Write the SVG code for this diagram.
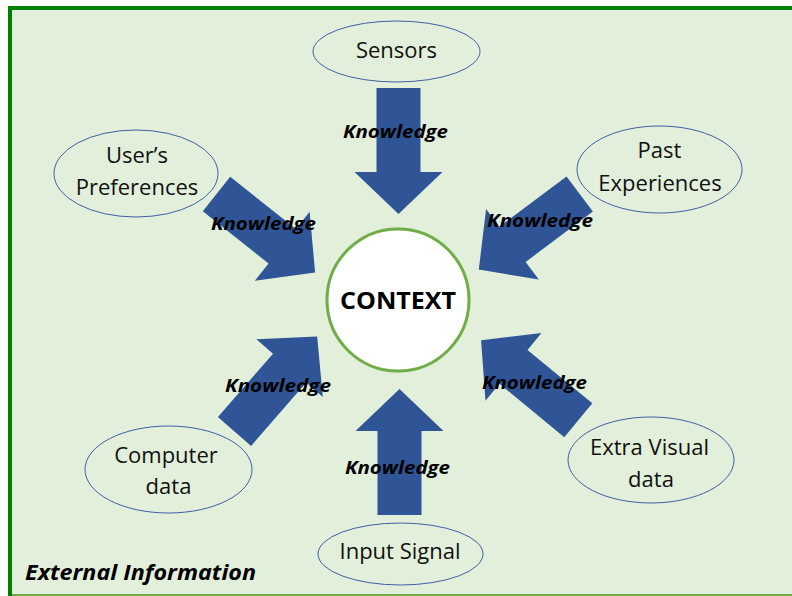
<svg xmlns="http://www.w3.org/2000/svg" width="792" height="596" viewBox="0 0 792 596">
  <style>
    .node ellipse { fill: #E2EFDA; stroke: #3F5FA8; stroke-width: 1; }
    .lbl { font-family: "Open Sans", "Liberation Sans", sans-serif; font-size: 22px; fill: #111; text-anchor: middle; }
    .kn { font-family: "Open Sans", "Liberation Sans", sans-serif; font-size: 18px; font-weight: bold; font-style: italic; fill: #000; }
    .arrow { fill: #2F5597; }
  </style>
  <defs>
    <path id="blk" d="M0,-22 L84,-22 L84,-44 L126,0 L84,44 L84,22 L0,22 Z"/>
  </defs>
  <rect x="0" y="0" width="792" height="596" fill="#FFFFFF"/>
  <rect x="10" y="8" width="782" height="587" fill="#E2EFDA"/>
  <line x1="8" y1="8" x2="792" y2="8" stroke="#008000" stroke-width="4"/>
  <line x1="10" y1="6" x2="10" y2="596" stroke="#008000" stroke-width="4"/>
  <line x1="12" y1="595" x2="792" y2="595" stroke="#70AD47" stroke-width="2"/>

  <g id="connectors">
    <use href="#blk" class="arrow" transform="translate(398.5,88) rotate(90)"/>
    <use href="#blk" class="arrow" transform="translate(399.5,515) rotate(-90)"/>
    <use href="#blk" class="arrow" transform="translate(216.5,194) rotate(38.5)"/>
    <use href="#blk" class="arrow" transform="translate(579.7,194) rotate(143.2)"/>
    <use href="#blk" class="arrow" transform="translate(234.5,431.5) rotate(-49)"/>
    <use href="#blk" class="arrow" transform="translate(578.3,420.3) rotate(-140.5)"/>
    <text class="kn" x="343" y="138" textLength="105" lengthAdjust="spacingAndGlyphs">Knowledge</text>
    <text class="kn" x="211" y="230" textLength="105" lengthAdjust="spacingAndGlyphs">Knowledge</text>
    <text class="kn" x="487" y="227" textLength="106" lengthAdjust="spacingAndGlyphs">Knowledge</text>
    <text class="kn" x="225" y="392" textLength="106" lengthAdjust="spacingAndGlyphs">Knowledge</text>
    <text class="kn" x="482" y="389" textLength="105" lengthAdjust="spacingAndGlyphs">Knowledge</text>
    <text class="kn" x="345" y="474" textLength="105" lengthAdjust="spacingAndGlyphs">Knowledge</text>
  </g>

  <g id="context">
    <circle cx="398" cy="300" r="71" fill="#FFFFFF" stroke="#70AD47" stroke-width="3"/>
    <text x="398" y="308.5" text-anchor="middle" font-family="Open Sans, Liberation Sans, sans-serif" font-size="24" font-weight="bold" fill="#000" textLength="116" lengthAdjust="spacingAndGlyphs">CONTEXT</text>
  </g>

  <g id="sensors" class="node">
    <ellipse cx="396.5" cy="51.5" rx="83.5" ry="30.5"/>
    <text class="lbl" x="396.5" y="57.5">Sensors</text>
  </g>
  <g id="users-preferences" class="node">
    <ellipse cx="136" cy="173.5" rx="82" ry="43.5"/>
    <text class="lbl" x="137" y="163">User’s</text>
    <text class="lbl" x="137" y="195">Preferences</text>
  </g>
  <g id="past-experiences" class="node">
    <ellipse cx="659.5" cy="169.5" rx="82.5" ry="43.5"/>
    <text class="lbl" x="659.5" y="158">Past</text>
    <text class="lbl" x="660" y="191">Experiences</text>
  </g>
  <g id="computer-data" class="node">
    <ellipse cx="168.5" cy="469.5" rx="83.5" ry="43.5"/>
    <text class="lbl" x="166" y="463">Computer</text>
    <text class="lbl" x="168.5" y="494">data</text>
  </g>
  <g id="extra-visual-data" class="node">
    <ellipse cx="651" cy="460" rx="83" ry="43"/>
    <text class="lbl" x="649.5" y="455">Extra Visual</text>
    <text class="lbl" x="651" y="487">data</text>
  </g>
  <g id="input-signal" class="node">
    <ellipse cx="400.5" cy="554" rx="82.5" ry="31"/>
    <text class="lbl" x="400" y="559">Input Signal</text>
  </g>

  <text x="25" y="580" font-family="Open Sans, Liberation Sans, sans-serif" font-size="21" font-weight="bold" font-style="italic" fill="#000" textLength="231" lengthAdjust="spacingAndGlyphs">External Information</text>
</svg>
